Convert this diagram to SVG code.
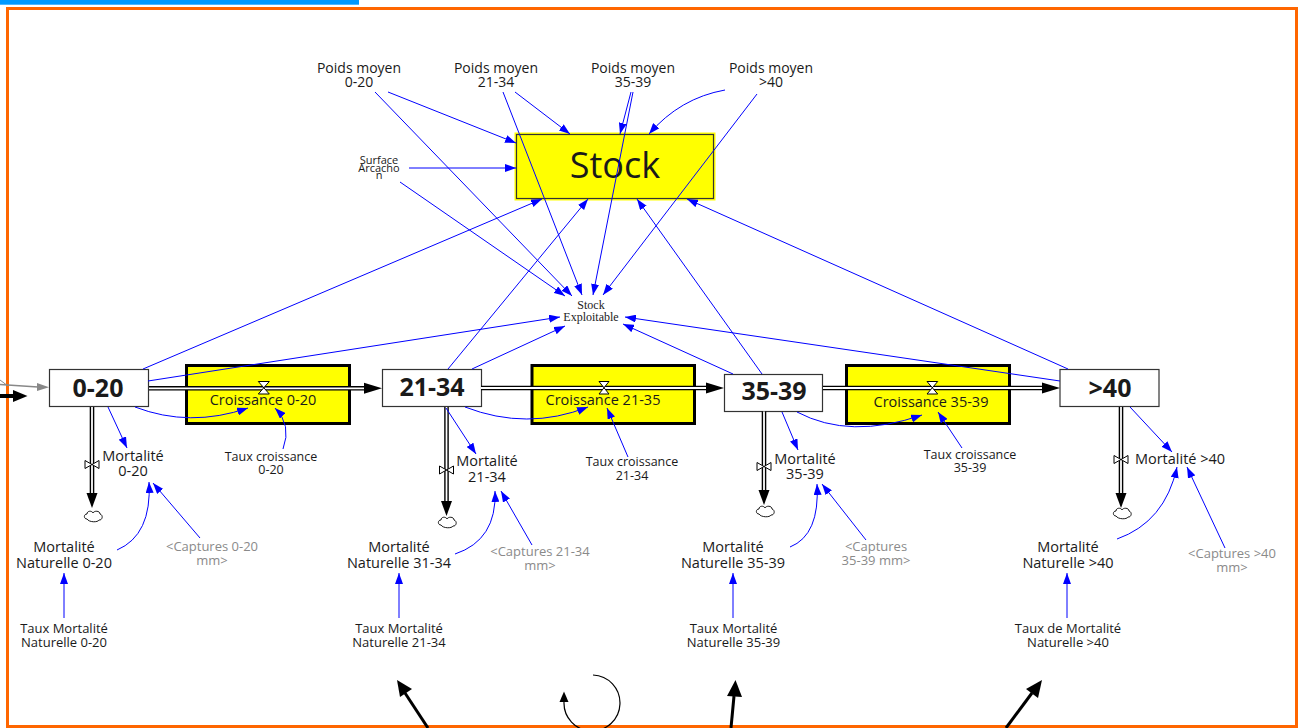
<svg xmlns="http://www.w3.org/2000/svg" xmlns:xlink="http://www.w3.org/1999/xlink" width="1298" height="728" viewBox="0 0 1298 728">
<defs>
<style>
.t{font-family:'Open Sans','DejaVu Sans',sans-serif;fill:#1a1a1a;text-anchor:middle}
.g{fill:#8a8a8a}
.se{font-family:'Liberation Serif','Times New Roman',serif;font-size:12px;fill:#222;text-anchor:middle}
.stk{fill:#fff;stroke:#333;stroke-width:1.2}
.flow{fill:#ffff00;stroke:#000;stroke-width:3}
.b{fill:none;stroke:#0000ff;stroke-width:1;marker-end:url(#ab)}
.po{stroke:#000;stroke-width:4.6;fill:none}
.pi{stroke:#fff;stroke-width:1.8;fill:none}
.hd{fill:#000}
.valve{fill:#fff;stroke:#000;stroke-width:1}
.cl{fill:#fff;stroke:#000;stroke-width:0.9}
.bk{stroke:#000;stroke-width:3;fill:none}
</style>
<marker id="ab" markerWidth="11" markerHeight="8" refX="11" refY="4" orient="auto" markerUnits="userSpaceOnUse">
<path d="M0,0 L11,4 L0,8 Z" fill="#0000ff"/>
</marker>
<path id="cloud" d="M-6,3 C-9.5,3 -9.5,-2 -6,-2 C-6,-5.5 -1,-5.5 0,-3 C1,-5.5 7,-5.5 7,-2 C10.5,-1 9.5,4.5 6,4 C5,6.5 -4,6.5 -6,3 Z" class="cl"/>
</defs>
<rect width="1298" height="728" fill="#fff"/>
<rect x="0" y="0" width="359" height="4.7" fill="#0099ff"/>
<rect x="7.5" y="8.5" width="1289" height="718" fill="none" stroke="#ff6600" stroke-width="3"/>

<g id="stock">
<rect x="514.5" y="132.5" width="201" height="68" fill="#ffff00"/>
<rect x="516.5" y="134.5" width="197" height="64" fill="#ffff00" stroke="#333" stroke-width="1.2"/>
<text class="t" x="615" y="178" font-size="36">Stock</text>
</g>
<g id="stock-exploitable"><text class="se" x="591" y="309">Stock</text><text class="se" x="591" y="321">Exploitable</text></g>
<g id="surface-arcachon"><text class="t" font-size="11" x="379" y="164">Surface</text><text class="t" font-size="11" x="379" y="172">Arcacho</text><text class="t" font-size="11" x="379" y="179">n</text></g>
<g id="poids-0-20"><text class="t" font-size="14" x="359" y="73">Poids moyen</text><text class="t" font-size="14" x="359" y="87">0-20</text></g>
<g id="poids-21-34"><text class="t" font-size="14" x="496" y="73">Poids moyen</text><text class="t" font-size="14" x="496" y="87">21-34</text></g>
<g id="poids-35-39"><text class="t" font-size="14" x="633" y="73">Poids moyen</text><text class="t" font-size="14" x="633" y="87">35-39</text></g>
<g id="poids-40"><text class="t" font-size="14" x="771" y="73">Poids moyen</text><text class="t" font-size="14" x="771" y="87">&gt;40</text></g>

<g id="s-0-20"><rect class="stk" x="49.5" y="369.5" width="99" height="37"/><text class="t" font-size="25" font-weight="bold" x="98" y="397">0-20</text></g>
<g id="s-21-34"><rect class="stk" x="382.5" y="369.5" width="99" height="37"/><text class="t" font-size="25" font-weight="bold" x="432" y="396">21-34</text></g>
<g id="s-35-39"><rect class="stk" x="724.5" y="374.5" width="98" height="37"/><text class="t" font-size="25" font-weight="bold" x="774" y="400">35-39</text></g>
<g id="s-40"><rect class="stk" x="1060" y="369.5" width="99" height="37"/><text class="t" font-size="25" font-weight="bold" x="1110" y="397">&gt;40</text></g>

<g id="croissance-0-20"><rect class="flow" x="186.5" y="365.5" width="163" height="58"/><text class="t" font-size="14.5" x="263" y="405">Croissance 0-20</text></g>
<g id="croissance-21-35"><rect class="flow" x="532" y="365.5" width="162.5" height="58"/><text class="t" font-size="14.5" x="603" y="405">Croissance 21-35</text></g>
<g id="croissance-35-39"><rect class="flow" x="846.5" y="365.5" width="163" height="58"/><text class="t" font-size="14.5" x="931" y="406.5">Croissance 35-39</text></g>

<g id="taux-c-0-20"><text class="t" font-size="12.5" x="271" y="461">Taux croissance</text><text class="t" font-size="12.5" x="271" y="474">0-20</text></g>
<g id="taux-c-21-34"><text class="t" font-size="12.5" x="632" y="466">Taux croissance</text><text class="t" font-size="12.5" x="632" y="480">21-34</text></g>
<g id="taux-c-35-39"><text class="t" font-size="12.5" x="970" y="459">Taux croissance</text><text class="t" font-size="12.5" x="970" y="472">35-39</text></g>

<g id="mort-0-20"><text class="t" font-size="14.5" x="133" y="461">Mortalité</text><text class="t" font-size="14.5" x="133" y="476">0-20</text></g>
<g id="mort-21-34"><text class="t" font-size="14.5" x="487" y="466">Mortalité</text><text class="t" font-size="14.5" x="487" y="482">21-34</text></g>
<g id="mort-35-39"><text class="t" font-size="14.5" x="805" y="464">Mortalité</text><text class="t" font-size="14.5" x="805" y="479">35-39</text></g>
<g id="mort-40"><text class="t" font-size="14.5" x="1180" y="463.5">Mortalité &gt;40</text></g>

<g id="mn-0-20"><text class="t" font-size="14.5" x="64" y="552">Mortalité</text><text class="t" font-size="14.5" x="64" y="568">Naturelle 0-20</text></g>
<g id="mn-21-34"><text class="t" font-size="14.5" x="399" y="552">Mortalité</text><text class="t" font-size="14.5" x="399" y="568">Naturelle 31-34</text></g>
<g id="mn-35-39"><text class="t" font-size="14.5" x="733" y="552">Mortalité</text><text class="t" font-size="14.5" x="733" y="568">Naturelle 35-39</text></g>
<g id="mn-40"><text class="t" font-size="14.5" x="1068" y="552">Mortalité</text><text class="t" font-size="14.5" x="1068" y="568">Naturelle &gt;40</text></g>

<g id="capt-0-20"><text class="t g" font-size="13" x="212" y="551">&lt;Captures 0-20</text><text class="t g" font-size="13" x="212" y="565">mm&gt;</text></g>
<g id="capt-21-34"><text class="t g" font-size="13" x="540" y="555.5">&lt;Captures 21-34</text><text class="t g" font-size="13" x="540" y="569.5">mm&gt;</text></g>
<g id="capt-35-39"><text class="t g" font-size="13" x="876" y="551">&lt;Captures</text><text class="t g" font-size="13" x="876" y="565">35-39 mm&gt;</text></g>
<g id="capt-40"><text class="t g" font-size="13" x="1232" y="558">&lt;Captures &gt;40</text><text class="t g" font-size="13" x="1232" y="572">mm&gt;</text></g>

<g id="tmn-0-20"><text class="t" font-size="13" x="64" y="632.5">Taux Mortalité</text><text class="t" font-size="13" x="64" y="646.5">Naturelle 0-20</text></g>
<g id="tmn-21-34"><text class="t" font-size="13" x="399" y="632.5">Taux Mortalité</text><text class="t" font-size="13" x="399" y="646.5">Naturelle 21-34</text></g>
<g id="tmn-35-39"><text class="t" font-size="13" x="733.5" y="632.5">Taux Mortalité</text><text class="t" font-size="13" x="733.5" y="646.5">Naturelle 35-39</text></g>
<g id="tmn-40"><text class="t" font-size="13" x="1068" y="632.5">Taux de Mortalité</text><text class="t" font-size="13" x="1068" y="646.5">Naturelle &gt;40</text></g>

<g id="connectors">
<!-- pipes -->
<path class="po" d="M149,388.3 H365"/><path class="pi" d="M149,388.3 H365"/>
<path class="hd" d="M364,382.8 L382,388.3 L364,393.8 Z"/>
<path class="po" d="M481,388 H707"/><path class="pi" d="M481,388 H707"/>
<path class="hd" d="M706,382.5 L724,388 L706,393.5 Z"/>
<path class="po" d="M823,388 H1043"/><path class="pi" d="M823,388 H1043"/>
<path class="hd" d="M1042,382.5 L1060,388 L1042,393.5 Z"/>
<path class="po" d="M92,407 V494"/><path class="pi" d="M92,407 V494"/>
<path class="hd" d="M86.5,493 L92,508 L97.5,493 Z"/>
<path class="po" d="M446.5,407 V502"/><path class="pi" d="M446.5,407 V502"/>
<path class="hd" d="M441,501 L446.5,516 L452,501 Z"/>
<path class="po" d="M764,411.5 V491"/><path class="pi" d="M764,411.5 V491"/>
<path class="hd" d="M758.5,490 L764,505 L769.5,490 Z"/>
<path class="po" d="M1121,407 V494"/><path class="pi" d="M1121,407 V494"/>
<path class="hd" d="M1115.5,493 L1121,508 L1126.5,493 Z"/>
<!-- left inflow -->
<path d="M0,384.5 L38,387" stroke="#888" stroke-width="1.3" fill="none"/>
<path d="M37,383 L49,387.3 L37,391 Z" fill="#888"/>
<path d="M0,380 L8,386" stroke="#888" stroke-width="1" fill="none"/>
<path d="M0,396 H14" stroke="#000" stroke-width="4"/>
<path d="M13,390 L27.5,396 L13,402 Z" fill="#000"/>
<!-- valves -->
<path class="valve" d="M258.3,381.5 H269.3 L258.3,394 H269.3 Z"/>
<path class="valve" d="M599,381.5 H609 L599,394 H609 Z"/>
<path class="valve" d="M927,381.5 H937.7 L927,394 H937.7 Z"/>
<path class="valve" d="M85,460.5 V468.5 L99,460.5 V468.5 Z"/>
<path class="valve" d="M439.5,466 V474 L453.5,466 V474 Z"/>
<path class="valve" d="M757,462.5 V470.5 L771,462.5 V470.5 Z"/>
<path class="valve" d="M1114,455.5 V463.5 L1128,455.5 V463.5 Z"/>
<!-- clouds -->
<use xlink:href="#cloud" href="#cloud" x="93" y="516"/>
<use xlink:href="#cloud" href="#cloud" x="447" y="522"/>
<use xlink:href="#cloud" href="#cloud" x="765" y="511"/>
<use xlink:href="#cloud" href="#cloud" x="1122" y="513"/>
<!-- influences to Stock / Stock Exploitable -->
<path class="b" d="M388,92 L516,143"/>
<path class="b" d="M375,92 L572,296"/>
<path class="b" d="M515,92 L570,134"/>
<path class="b" d="M503,92 L582,295"/>
<path class="b" d="M631,92 L620,134"/>
<path class="b" d="M633,92 L593,295"/>
<path class="b" d="M725,90 Q680,98 649,134"/>
<path class="b" d="M757,94 L603,295"/>
<path class="b" d="M409,168 L516,168"/>
<path class="b" d="M400,182 L565,296"/>
<path class="b" d="M143,369 L542,199"/>
<path class="b" d="M448,369 L588,199"/>
<path class="b" d="M762,374 L637,199"/>
<path class="b" d="M1068,369 L687,199"/>
<path class="b" d="M148,381 L560,317"/>
<path class="b" d="M472,369 L565,326"/>
<path class="b" d="M733,374 L623,324"/>
<path class="b" d="M1060,381 L625,317"/>
<!-- influences to flows -->
<path class="b" d="M135,407 Q190,428 248,408"/>
<path class="b" d="M283,449 Q292,425 275,408"/>
<path class="b" d="M465,407 Q527,431 588,407"/>
<path class="b" d="M628,457 L607,408"/>
<path class="b" d="M797,412 Q850,440 922,415"/>
<path class="b" d="M962,448 L938,412"/>
<path class="b" d="M108,407 L127,448"/>
<path class="b" d="M446,408 L476,454"/>
<path class="b" d="M782,412 L798,450"/>
<path class="b" d="M1130,407 L1172,452"/>
<path class="b" d="M117,550 Q152,535 149,482"/>
<path class="b" d="M200,538 L153,483"/>
<path class="b" d="M455,554 Q497,540 495,491"/>
<path class="b" d="M532,545 L501,491"/>
<path class="b" d="M790,547 Q820,535 817,484"/>
<path class="b" d="M866,540 L822,484"/>
<path class="b" d="M1117,539 Q1165,522 1177,467"/>
<path class="b" d="M1225,548 L1187,467"/>
<path class="b" d="M64,618 L64,573"/>
<path class="b" d="M399,618 L399,573"/>
<path class="b" d="M733,618 L733,573"/>
<path class="b" d="M1067,618 L1067,573"/>
<!-- bottom black arrows -->
<path class="bk" d="M428,728 L405,693"/>
<path class="hd" d="M397,680 L412,689 L400,697 Z"/>
<path class="bk" d="M731,728 L734,696"/>
<path class="hd" d="M735.5,680 L742,697 L727,696 Z"/>
<path class="bk" d="M1006,728 L1032,693"/>
<path class="hd" d="M1042,680 L1038,698 L1026,689 Z"/>
<path d="M593,675 A28,28 0 1 1 564,702" fill="none" stroke="#000" stroke-width="1.2"/>
<path class="hd" d="M564,691.5 L568.5,702 L559.5,702 Z"/>
</g>
</svg>
